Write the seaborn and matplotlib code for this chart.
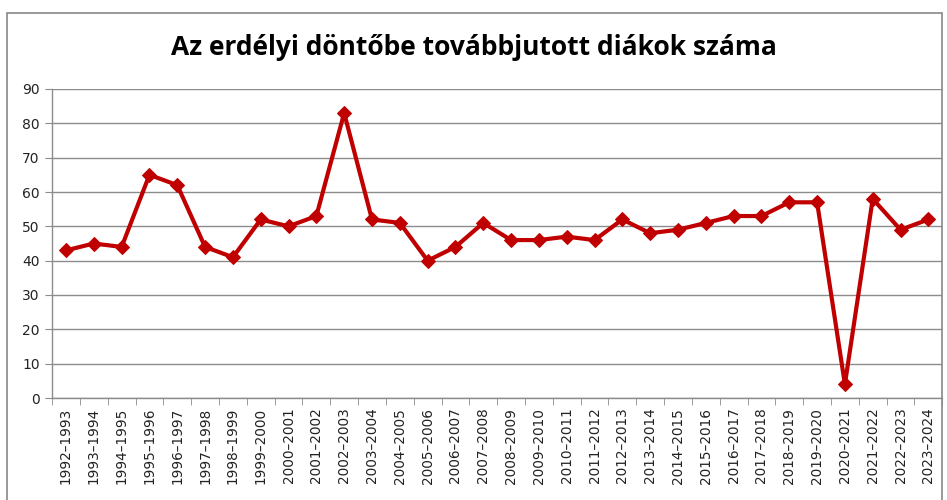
import numpy as np
import pandas as pd
import matplotlib
matplotlib.use("Agg")
import matplotlib.pyplot as plt
import seaborn as sns
from matplotlib.patches import Rectangle

seasons = [f"{y}\u2013{y + 1}" for y in range(1992, 2024)]
students = [43, 45, 44, 65, 62, 44, 41, 52, 50, 53, 83, 52, 51, 40, 44, 51,
            46, 46, 47, 46, 52, 48, 49, 51, 53, 53, 57, 57, 4, 58, 49, 52]

df = pd.DataFrame({"idx": np.arange(len(seasons)), "season": seasons, "n": students})

sns.set_style("white")
plt.rcParams['font.family'] = ['DejaVu Sans']

fig = plt.figure(figsize=(9.47, 5), dpi=100)
ax = fig.add_axes([0.055, 0.204, 0.94, 0.618])

# outer chart frame
fig.patches.append(Rectangle((0.007, -0.01), 0.988, 0.985, transform=fig.transFigure,
                             fill=False, edgecolor='#888888', linewidth=1.2))

sns.lineplot(data=df, x="idx", y="n", ax=ax, color='#C00000', linewidth=3,
             marker='D', markersize=7, markeredgecolor='#C00000')

ax.set_xlim(-0.5, len(seasons) - 0.5)
ax.set_ylim(0, 90)
ax.set_yticks(range(0, 91, 10))
ax.yaxis.grid(True, color='#8c8c8c', linewidth=1)
ax.set_axisbelow(True)

ax.set_xticks(np.arange(len(seasons)))
ax.set_xticklabels(seasons, rotation=90, fontsize=9.8, color='#222222')
ax.set_xticks(np.arange(-0.5, len(seasons)), minor=True)
ax.tick_params(axis='x', which='major', length=0, pad=7)
ax.tick_params(axis='x', which='minor', length=5, color='#8c8c8c', direction='out')
ax.tick_params(axis='y', length=5, color='#8c8c8c', labelsize=10, labelcolor='#222222',
               direction='out', pad=4)
ax.yaxis.set_ticks_position('left')
ax.xaxis.set_ticks_position('bottom')

for s in ['top', 'right']:
    ax.spines[s].set_visible(False)
for s in ['left', 'bottom']:
    ax.spines[s].set_color('#8c8c8c')
    ax.spines[s].set_linewidth(1)

ax.set_xlabel('')
ax.set_ylabel('')

fig.text(0.5, 0.905, 'Az erdélyi döntőbe továbbjutott diákok száma', ha='center', va='center',
         fontsize=19, fontweight='bold', color='black', family=['Open Sans', 'DejaVu Sans'])

fig.savefig('out.png', dpi=100)
